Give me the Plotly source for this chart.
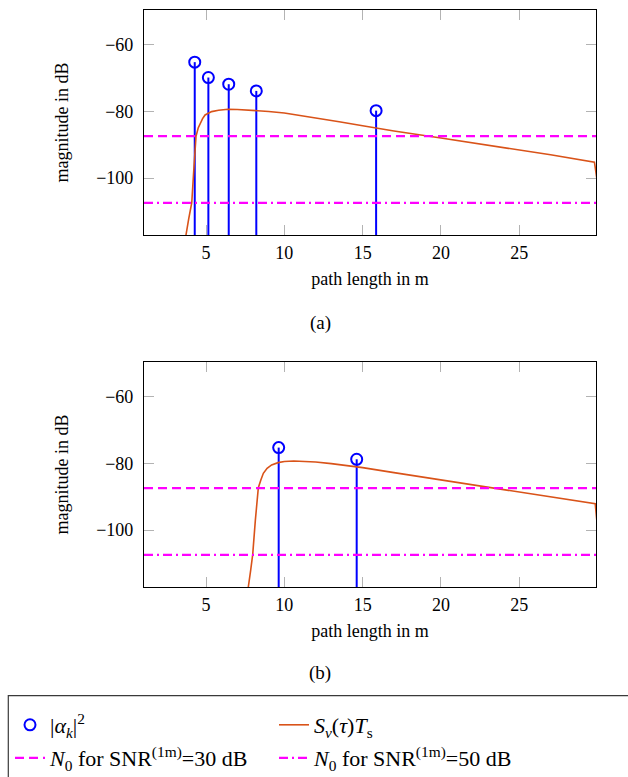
import plotly.graph_objects as go

# ---------------- data ----------------
# (a) path components
PATH_A = [4.28, 5.15, 6.45, 8.21, 15.86]
ALPHA_A = [-65.3, -69.9, -71.9, -73.9, -79.8]
# (b) path components
PATH_B = [9.64, 14.62]
ALPHA_B = [-75.3, -78.8]

# S_nu(tau) T_s curves
CURVE_A_X = [3.55, 3.72, 3.90, 4.09, 4.22, 4.36, 4.50, 4.62, 4.78, 4.94, 5.15, 5.36,
             5.80, 6.40, 7.00, 8.00, 9.00, 10.0, 11.0, 12.0, 13.5, 15.0, 17.0, 20.0,
             22.0, 25.0, 27.0, 29.80, 29.95]
CURVE_A_Y = [-125.0, -117.0, -112.0, -107.3, -97.5, -87.5, -85.0, -83.6, -82.2, -81.1,
             -80.5, -80.1, -79.7, -79.4, -79.45, -79.7, -80.05, -80.5, -81.2, -81.95,
             -83.15, -84.3, -85.9, -88.0, -89.4, -91.5, -93.0, -95.2, -100.0]

CURVE_B_X = [7.55, 7.70, 7.85, 7.98, 8.15, 8.34, 8.50, 8.66, 8.90, 9.19, 9.60, 10.0,
             10.6, 11.2, 12.0, 13.0, 14.0, 15.0, 17.0, 20.0, 22.9, 25.0, 27.0, 29.85,
             29.95]
CURVE_B_Y = [-125.0, -117.0, -112.0, -107.3, -97.0, -87.3, -85.0, -83.0, -81.5, -80.5,
             -79.8, -79.45, -79.3, -79.35, -79.6, -80.1, -80.7, -81.3, -82.8, -85.0,
             -87.2, -88.7, -90.2, -92.1, -97.0]

# noise levels
N0_30DB = -87.4
N0_50DB = -107.4

# axes
X_RANGE = [1.04, 29.9]
Y_RANGE = [-117.0, -49.7]
X_TICKS = [5, 10, 15, 20, 25]
Y_TICKS = [-60, -80, -100]
STEM_FLOOR = -130.0

BLUE = "#0000ff"
ORANGE = "#d95319"
MAGENTA = "#ff00ff"
FONT = "Liberation Serif"

LEG_ALPHA = "|<i>α<sub>k</sub></i>|<sup>2</sup>"
LEG_S = "<i>S<sub>ν</sub></i>(<i>τ</i>)<i>T</i><sub>s</sub>"
LEG_N30 = "<i>N</i><sub>0</sub> for SNR<sup>(1m)</sup>=30 dB"
LEG_N50 = "<i>N</i><sub>0</sub> for SNR<sup>(1m)</sup>=50 dB"

fig = go.Figure()


def add_panel(xa, ya, px, alpha, cx, cy, show):
    fig.add_trace(go.Scatter(
        x=px, y=alpha, mode="markers", xaxis=xa, yaxis=ya,
        marker=dict(symbol="circle-open", size=11, color=BLUE, line=dict(width=2, color=BLUE)),
        error_y=dict(type="data", symmetric=False, array=[0] * len(alpha),
                     arrayminus=[a - STEM_FLOOR for a in alpha],
                     width=0, thickness=2, color=BLUE),
        name=LEG_ALPHA, showlegend=show, legend="legend"))
    fig.add_trace(go.Scatter(
        x=cx, y=cy, mode="lines", xaxis=xa, yaxis=ya,
        line=dict(color=ORANGE, width=1.6),
        name=LEG_S, showlegend=show, legend="legend"))
    fig.add_trace(go.Scatter(
        x=X_RANGE, y=[N0_30DB, N0_30DB], mode="lines", xaxis=xa, yaxis=ya,
        line=dict(color=MAGENTA, width=2.2, dash="9px,5px"),
        name=LEG_N30, showlegend=show, legend="legend2"))
    fig.add_trace(go.Scatter(
        x=X_RANGE, y=[N0_50DB, N0_50DB], mode="lines", xaxis=xa, yaxis=ya,
        line=dict(color=MAGENTA, width=2.2, dash="9px,4px,2px,4px"),
        name=LEG_N50, showlegend=show, legend="legend2"))


add_panel("x", "y", PATH_A, ALPHA_A, CURVE_A_X, CURVE_A_Y, True)
add_panel("x2", "y2", PATH_B, ALPHA_B, CURVE_B_X, CURVE_B_Y, False)

ML, MR, MT, MB = 144, 32, 10, 190
W, H = 628, 777
PW, PH = W - ML - MR, H - MT - MB


def py(ypix):
    return (H - MB - ypix) / PH


def pxp(xpix):
    return (xpix - ML) / PW


axis_common = dict(
    showline=True, linecolor="black", linewidth=1.2, mirror="ticks",
    ticks="inside", ticklen=10, tickwidth=1.3, tickcolor="#b3b3b3",
    showgrid=False, zeroline=False,
    tickfont=dict(family=FONT, size=18, color="black"),
)

xa = dict(axis_common, range=X_RANGE, tickvals=X_TICKS, ticklabelstandoff=1,
          title=dict(text="path length in m", font=dict(family=FONT, size=18, color="black"), standoff=10))
ya = dict(axis_common, range=Y_RANGE, tickvals=Y_TICKS, ticklabelstandoff=6,
          title=dict(text="magnitude in dB", font=dict(family=FONT, size=18, color="black"), standoff=22))

top_dom = [py(235), 1.0]
bot_dom = [0.0, py(362)]

leg_common = dict(orientation="h", x=pxp(10), xanchor="left", yanchor="top",
                  entrywidth=219, entrywidthmode="pixels", traceorder="normal",
                  font=dict(family=FONT, size=22, color="black"), bgcolor="rgba(0,0,0,0)",
                  borderwidth=0)

fig.update_layout(
    width=W, height=H,
    margin=dict(l=ML, r=MR, t=MT, b=MB, autoexpand=False),
    paper_bgcolor="white", plot_bgcolor="white",
    xaxis=dict(xa, domain=[0, 1], anchor="y"),
    yaxis=dict(ya, domain=top_dom, anchor="x"),
    xaxis2=dict(xa, domain=[0, 1], anchor="y2"),
    yaxis2=dict(ya, domain=bot_dom, anchor="x2"),
    legend=dict(leg_common, y=py(704)),
    legend2=dict(leg_common, y=py(737)),
    shapes=[dict(type="rect", xref="paper", yref="paper",
                 x0=pxp(8.3), x1=pxp(650), y0=py(695.7), y1=py(800),
                 line=dict(color="#3a3a3a", width=1.2), fillcolor="rgba(0,0,0,0)")],
    annotations=[
        dict(text="(a)", x=pxp(320.3), y=py(322.7), xref="paper", yref="paper",
             xanchor="center", yanchor="middle",
             showarrow=False, font=dict(family=FONT, size=19, color="black")),
        dict(text="(b)", x=pxp(320.3), y=py(673), xref="paper", yref="paper",
             xanchor="center", yanchor="middle",
             showarrow=False, font=dict(family=FONT, size=19, color="black")),
    ],
    showlegend=True,
)

fig.write_html("out.html")
